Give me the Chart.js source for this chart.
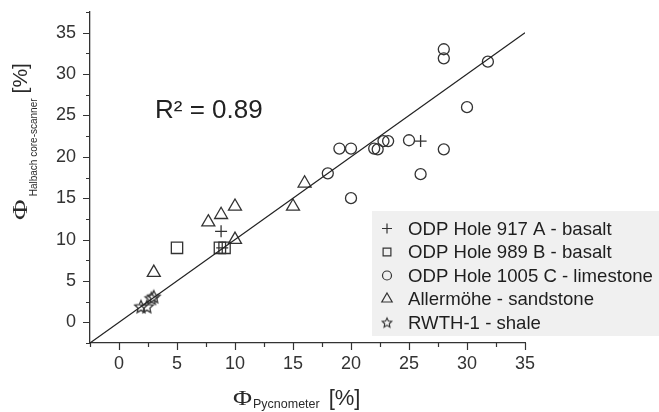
<!DOCTYPE html>
<html>
<head>
<meta charset="utf-8">
<script src="https://cdn.jsdelivr.net/npm/chart.js@4/dist/chart.umd.min.js"></script>
<style>
  html, body { margin: 0; padding: 0; background: #fff; }
  #wrap { width: 659px; height: 412px; position: relative; }
</style>
</head>
<body>
<div id="wrap"><canvas id="c" width="659" height="412"></canvas></div>
<script>
// Porosity from the pycnometer (x) against porosity from the Halbach core-scanner (y), both in %
const seriesNames = [
  'ODP Hole 917 A - basalt',
  'ODP Hole 989 B - basalt',
  'ODP Hole 1005 C - limestone',
  'Allermöhe - sandstone',
  'RWTH-1 - shale'
];
const hole917A_x = [8.8, 8.9, 26.0];
const hole917A_y = [11.0, 9.0, 21.9];
const hole989B_x = [5.0, 8.7, 9.1];
const hole989B_y = [9.0, 9.0, 9.0];
const hole1005C_x = [18.0, 19.0, 20.0, 20.0, 22.0, 22.3, 22.8, 23.2, 25.0, 26.0, 28.0, 28.0, 28.0, 30.0, 31.8];
const hole1005C_y = [18.0, 21.0, 21.0, 15.0, 21.0, 20.9, 21.9, 21.9, 22.0, 17.9, 20.9, 31.9, 33.0, 26.0, 31.5];
const allermoehe_x = [3.0, 7.7, 8.8, 10.0, 10.0, 15.0, 16.0];
const allermoehe_y = [6.0, 12.1, 13.0, 14.0, 10.0, 14.0, 16.8];
const rwth1_x = [1.9, 2.4, 2.8, 3.0];
const rwth1_y = [1.9, 1.9, 2.9, 3.1];
// 1:1 reference line
const oneToOne_x = [-2.5, 35];
const oneToOne_y = [-2.5, 35];
// axis ranges and labelled ticks
const xRange = [-2.5, 35];
const yRange = [-2.5, 37.5];
const tickStep = 2.5;
const xTickLabels = [0, 5, 10, 15, 20, 25, 30, 35];
const yTickLabels = [0, 5, 10, 15, 20, 25, 30, 35];
const rSquaredText = 'R\u00B2 = 0.89';

const INK = '#333333';

function pairs(xs, ys) {
  return xs.map((x, i) => ({ x: x, y: ys[i] }));
}

// outlined five-pointed star used as a point style
function makeStar(outer, lw) {
  const pad = 2;
  const size = Math.ceil(2 * (outer + pad));
  const cv = document.createElement('canvas');
  cv.width = size; cv.height = size;
  const g = cv.getContext('2d');
  const c = size / 2;
  const inner = outer * 0.47;
  g.beginPath();
  for (let i = 0; i < 10; i++) {
    const r = i % 2 === 0 ? outer : inner;
    const a = -Math.PI / 2 + i * Math.PI / 5;
    const px = c + r * Math.cos(a), py = c + 0.5 + r * Math.sin(a);
    if (i === 0) g.moveTo(px, py); else g.lineTo(px, py);
  }
  g.closePath();
  g.strokeStyle = INK;
  g.lineWidth = lw;
  g.lineJoin = 'miter';
  g.stroke();
  return cv;
}

const starPoint = makeStar(6.6, 1.3);
const starLegend = makeStar(5.0, 1.1);

function markerSet(label, data, style, radius) {
  return {
    type: 'scatter',
    label: label,
    data: data,
    pointStyle: style,
    pointRadius: radius,
    pointHoverRadius: radius,
    pointBorderWidth: 1.3,
    borderWidth: 1.3,
    pointBorderColor: INK,
    borderColor: INK,
    pointBackgroundColor: 'rgba(0,0,0,0)',
    backgroundColor: 'rgba(0,0,0,0)',
    showLine: false
  };
}

const legendMarkers = [
  { style: 'cross', r: 5 },
  { style: 'rect', r: 5.5 },
  { style: 'circle', r: 4.5 },
  { style: 'triangle', r: 6 },
  { style: starLegend, r: 5 }
];

function drawMarker(ctx, style, r, x, y) {
  ctx.save();
  ctx.strokeStyle = INK;
  ctx.fillStyle = 'rgba(0,0,0,0)';
  ctx.lineWidth = 1.2;
  if (Chart.helpers && Chart.helpers.drawPoint) {
    Chart.helpers.drawPoint(ctx, { pointStyle: style, radius: r, rotation: 0, borderWidth: 1.2 }, x, y);
  } else if (typeof style === 'object') {
    ctx.drawImage(style, x - style.width / 2, y - style.height / 2);
  } else {
    ctx.beginPath();
    ctx.arc(x, y, r, 0, Math.PI * 2);
    ctx.stroke();
  }
  ctx.restore();
}

// ticks, axis titles, R² note and the legend panel
const decorations = {
  id: 'decorations',
  afterDraw(chart) {
    const ctx = chart.ctx;
    const area = chart.chartArea;
    const xs = chart.scales.x, ys = chart.scales.y;

    // major and minor tick marks, pointing outward
    ctx.save();
    ctx.strokeStyle = INK;
    ctx.lineWidth = 1.2;
    ctx.beginPath();
    for (let v = xRange[0]; v <= xRange[1] + 1e-9; v += tickStep) {
      const px = Math.round(xs.getPixelForValue(v)) + 0.5;
      const len = (Math.abs(v % 5) < 1e-9) ? 7 : 4;
      ctx.moveTo(px, area.bottom);
      ctx.lineTo(px, area.bottom + len);
    }
    for (let v = yRange[0]; v <= yRange[1] + 1e-9; v += tickStep) {
      const py = Math.round(ys.getPixelForValue(v)) + 0.5;
      const len = (Math.abs(v % 5) < 1e-9) ? 7 : 4;
      ctx.moveTo(area.left, py);
      ctx.lineTo(area.left - len, py);
    }
    ctx.stroke();
    ctx.restore();

    // x-axis title: Φ with subscript
    ctx.save();
    ctx.fillStyle = '#2a2a2a';
    ctx.textBaseline = 'alphabetic';
    let tx = area.left + 143;
    const tb = area.bottom + 62;
    ctx.font = '20px "Liberation Serif", serif';
    ctx.save();
    ctx.translate(tx, tb);
    ctx.scale(1.3, 1);
    ctx.fillText('\u03A6', 0, 0);
    ctx.restore();
    tx += ctx.measureText('\u03A6').width * 1.3 + 1;
    ctx.font = '12.5px "Liberation Sans", Arial, sans-serif';
    ctx.fillText('Pycnometer', tx, tb + 3);
    tx += ctx.measureText('Pycnometer').width + 9;
    ctx.font = '22px "Liberation Sans", Arial, sans-serif';
    ctx.fillText('[%]', tx, tb);
    ctx.restore();

    // y-axis title, rotated
    ctx.save();
    ctx.fillStyle = '#2a2a2a';
    ctx.translate(27, area.top + 208);
    ctx.rotate(-Math.PI / 2);
    let u = 0;
    ctx.font = '21px "Liberation Serif", serif';
    ctx.save();
    ctx.scale(1.35, 1);
    ctx.fillText('\u03A6', 0, 0);
    ctx.restore();
    u += ctx.measureText('\u03A6').width * 1.35 + 3;
    ctx.font = '10px "Liberation Sans", Arial, sans-serif';
    ctx.fillText('Halbach core-scanner', u, 9.5);
    u += ctx.measureText('Halbach core-scanner').width + 5;
    ctx.font = '21px "Liberation Sans", Arial, sans-serif';
    ctx.fillText('[%]', u, 0);
    ctx.restore();

    // coefficient of determination
    ctx.save();
    ctx.fillStyle = '#222';
    ctx.font = '26px "Liberation Sans", Arial, sans-serif';
    ctx.textBaseline = 'alphabetic';
    ctx.fillText(rSquaredText, area.left + 65, area.top + 106);
    ctx.restore();

    // legend panel
    const lx = area.right - 153, ly = area.bottom - 132;
    ctx.save();
    ctx.fillStyle = '#f0f0f0';
    ctx.fillRect(lx, ly, chart.width - lx, 125);
    ctx.font = '18.6px "Liberation Sans", Arial, sans-serif';
    ctx.textBaseline = 'middle';
    seriesNames.forEach((name, i) => {
      const cy = ly + 17.5 + i * 23.5;
      const m = legendMarkers[i];
      drawMarker(ctx, m.style, m.r, lx + 15, cy);
      ctx.fillStyle = '#1e1e1e';
      ctx.fillText(name, lx + 36, cy + 1);
    });
    ctx.restore();
  }
};

const tickFont = { family: '"Liberation Sans", Arial, sans-serif', size: 18, lineHeight: 1.0 };

new Chart(document.getElementById('c'), {
  type: 'scatter',
  data: {
    datasets: [
      {
        type: 'line',
        label: '1:1',
        data: pairs(oneToOne_x, oneToOne_y),
        borderColor: '#222',
        borderWidth: 1.2,
        pointRadius: 0,
        fill: false,
        tension: 0
      },
      markerSet(seriesNames[0], pairs(hole917A_x, hole917A_y), 'cross', 6),
      markerSet(seriesNames[1], pairs(hole989B_x, hole989B_y), 'rect', 8),
      markerSet(seriesNames[2], pairs(hole1005C_x, hole1005C_y), 'circle', 5.5),
      markerSet(seriesNames[3], pairs(allermoehe_x, allermoehe_y), 'triangle', 7.5),
      markerSet(seriesNames[4], pairs(rwth1_x, rwth1_y), starPoint, 6.6)
    ]
  },
  options: {
    responsive: false,
    animation: false,
    events: [],
    devicePixelRatio: 1,
    layout: { padding: { top: 12, right: 134, bottom: 0, left: 0 } },
    plugins: {
      legend: { display: false },
      tooltip: { enabled: false },
      title: { display: false }
    },
    scales: {
      x: {
        type: 'linear',
        min: xRange[0],
        max: xRange[1],
        grid: { display: false, drawTicks: false },
        border: { display: true, color: INK, width: 1.3 },
        ticks: {
          stepSize: tickStep,
          autoSkip: false,
          maxRotation: 0,
          padding: 12,
          color: INK,
          font: tickFont,
          callback: (v) => xTickLabels.includes(v) ? String(v) : ''
        },
        afterFit: (s) => { s.height = 69; s.paddingLeft = 0; s.paddingRight = 0; }
      },
      y: {
        type: 'linear',
        min: yRange[0],
        max: yRange[1],
        grid: { display: false, drawTicks: false },
        border: { display: true, color: INK, width: 1.3 },
        ticks: {
          stepSize: tickStep,
          autoSkip: false,
          padding: 14,
          color: INK,
          font: tickFont,
          callback: (v) => yTickLabels.includes(v) ? String(v) : ''
        },
        afterFit: (s) => { s.width = 90; s.paddingTop = 0; s.paddingBottom = 0; }
      }
    }
  },
  plugins: [decorations]
});
</script>
</body>
</html>
